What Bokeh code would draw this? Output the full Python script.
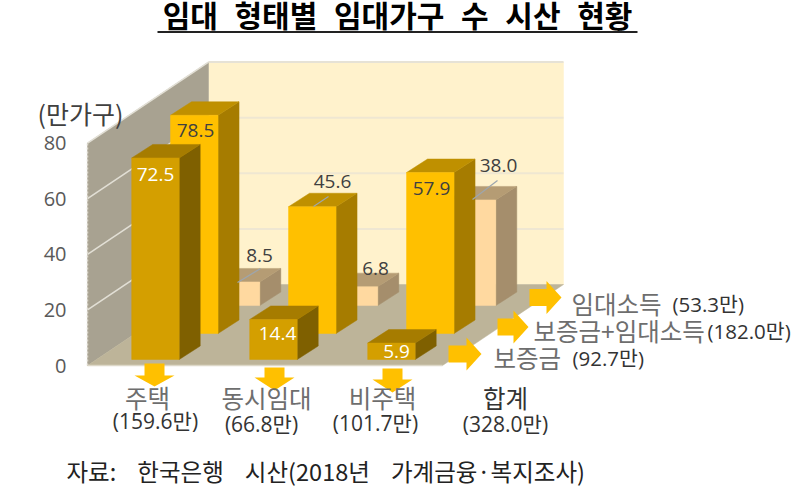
from bokeh.plotting import figure
from bokeh.models import LinearAxis, FixedTicker, Range1d
from bokeh.core.properties import value
from bokeh.embed import file_html
from bokeh.resources import INLINE

# ---------- data ----------
categories = ["주택", "동시임대", "비주택", "합계"]
category_totals = ["(159.6만)", "(66.8만)", "(101.7만)", "(328.0만)"]
deposit = [72.5, 14.4, 5.9]            # 보증금
deposit_income = [78.5, 45.6, 57.9]    # 보증금+임대소득
income = [8.5, 6.8, 38.0]              # 임대소득
y_ticks = [0, 20, 40, 60, 80]
NB2 = "\u00a0\u00a0"
NB4 = "\u00a0\u00a0\u00a0 "
title = NB2.join(["임대", "형태별", "임대가구", "수", "시산", "현황"])
source = NB4.join(["자료:", "한국은행", "시산(2018년", "가계금융·복지조사)"])
unit = "(만가구)"

# ---------- layout ----------
FONT = value("Noto Sans CJK KR")
NUMFONT = value("Open Sans, Noto Sans CJK KR")
TITLEFONT = value("Liberation Sans, Noto Sans CJK KR")
PX = 2.78
Y0 = 365
def V(py):
    return (Y0 - py) / PX

X0, CAT_W, DX, DY, BAR_W, BD_X, BD_Y = 87, 118.0, 121.0, 81.0, 47.5, 21.0, 13.5
WALL_W = 355.0

p = figure(width=800, height=489, output_backend="svg", toolbar_location=None,
           x_range=Range1d(0, 800), y_range=Range1d(V(489), V(0)),
           min_border=0, min_border_left=0, min_border_right=0, min_border_top=0, min_border_bottom=0,
           outline_line_color=None, background_fill_color="white", border_fill_color="white")
p.xaxis.visible = False
p.yaxis.visible = False
p.grid.visible = False

def poly(xs, ys, color):
    p.patch(xs, ys, fill_color=color, line_color=color, line_width=0.5)

back_v = DY / PX
# walls
poly([X0 + DX, X0 + DX + WALL_W, X0 + DX + WALL_W, X0 + DX],
     [back_v, back_v, back_v + 80, back_v + 80], "#FFF2CC")
poly([X0, X0 + DX, X0 + DX, X0], [0, back_v, back_v + 80, 80], "#A8A291")
poly([X0, X0 + WALL_W, X0 + WALL_W + DX, X0 + DX], [0, 0, back_v, back_v], "#BDB499")
for t in y_ticks[1:]:
    c = "#EFE7D2" if t < 80 else "#E6E2D6"
    p.line([X0 + DX, X0 + DX + WALL_W], [back_v + t, back_v + t], line_color=c, line_width=2)
    p.line([X0, X0 + DX], [t, back_v + t], line_color="#E2DFD5", line_width=1.6)
p.line([X0, X0], [0, 80], line_color="#DDDAD0", line_width=1.5, line_dash="2 2")
p.line([X0, X0 + WALL_W], [0, 0], line_color="#DDD8C8", line_width=1.5)

# ---------- bars (back row to front row) ----------
rows = [
    (income, 0.74, "#FFD9A0", "#B59C74", "#A58E6C"),
    (deposit_income, 0.395, "#FFC000", "#BF9000", "#A67C00"),
    (deposit, 0.074, "#D49F00", "#A67C00", "#7F6000"),
]
for vals, d, front, topc, side in rows:
    for i, v in enumerate(vals):
        xc = X0 + CAT_W * (i + 0.5) + DX * d
        l, r = xc - BAR_W / 2, xc + BAR_W / 2
        b = DY * d / PX
        t = b + v
        dv = BD_Y / PX
        poly([r, r + BD_X, r + BD_X, r], [b, b + dv, t + dv, t], side)
        poly([l, r, r + BD_X, l + BD_X], [t, t, t + dv, t + dv], topc)
        poly([l, r, r, l], [b, b, t, t], front)

# ---------- arrows ----------
def down_arrow(cx, y0, y1, y2):
    p.patch([cx - 10, cx + 10, cx + 10, cx + 20, cx, cx - 20, cx - 10],
            [V(y0), V(y0), V(y1), V(y1), V(y2), V(y1), V(y1)], fill_color="#FFC000", line_color=None)
def right_arrow(x0, x1, x2, cy):
    p.patch([x0, x1, x1, x2, x1, x1, x0],
            [V(cy - 8.5), V(cy - 8.5), V(cy - 16.5), V(cy), V(cy + 16.5), V(cy + 8.5), V(cy + 8.5)],
            fill_color="#FFC000", line_color=None)
down_arrow(154, 363, 375, 386)
down_arrow(274, 367, 377, 390)
down_arrow(392, 368, 379, 392)
right_arrow(529, 546, 561, 297)
right_arrow(497, 513, 528, 326.5)
right_arrow(448, 466, 481, 353.5)

# ---------- leader lines ----------
for (x1, y1, x2, y2) in [(237, 282, 260, 268), (313, 206, 328, 196), (472, 199, 497, 180)]:
    p.line([x1, x2], [V(y1), V(y2)], line_color="#9DA6AE", line_width=1.2)

# ---------- text ----------
def txt(x, y, s, size, color="#404040", align="center", style="normal", font=FONT, baseline="middle"):
    p.text([x], [V(y)], text=[s], text_font=font, text_font_size=f"{size}px", text_color=color,
           text_align=align, text_baseline=baseline, text_font_style=style)

# value labels
def lab(vals, pos, colors):
    for v, (x, y), c in zip(vals, pos, colors):
        txt(x, y, f"{v:.1f}", 19, c, font=NUMFONT)
lab(deposit, [(155, 174), (277, 333), (396, 351)], ["#FFFFFF", "#FFFFFF", "#FFFFFF"])
lab(deposit_income, [(195, 130), (332, 181), (431, 188)], ["#404040"] * 3)
lab(income, [(259, 255), (375, 268), (498, 165)], ["#404040"] * 3)

# category labels
GR = "#6E6E6E"
for s, x, c in zip(categories, [147, 266, 382, 505], [GR, GR, GR, "#333333"]):
    txt(x, 397, s, 24.5, c)
for s, x, y in zip(category_totals, [155, 261, 375, 505], [420, 423, 422, 423]):
    txt(x, y, s, 21, "#333333", font=NUMFONT)

# series labels
txt(571, 303, "임대소득", 24.5, GR, "left")
txt(672, 303, "(53.3만)", 20.5, "#333333", "left", font=NUMFONT)
txt(533, 330, "보증금+임대소득", 24.5, GR, "left")
txt(707, 330, "(182.0만)", 20.5, "#333333", "left", font=NUMFONT)
txt(493, 357, "보증금", 24.5, GR, "left")
txt(572, 357, "(92.7만)", 20.5, "#333333", "left", font=NUMFONT)

txt(397, 16, title, 30, "#000000", style="bold", font=TITLEFONT, baseline="alphabetic")
p.line([157, 637], [V(31.5), V(31.5)], line_color="#222222", line_width=2)
txt(80, 112, unit, 25, "#404040")
txt(66, 470, source, 23.5, "#222222", "left")

# y axis
axis = LinearAxis(fixed_location=77, ticker=FixedTicker(ticks=y_ticks),
                  axis_line_color=None, major_tick_line_color=None, minor_tick_line_color=None,
                  major_label_text_font="Open Sans, Noto Sans CJK KR", major_label_text_font_size="20px",
                  major_label_text_color="#595959", major_label_standoff=5)
p.add_layout(axis, "left")

open("out.html", "w").write(file_html(p, INLINE))
